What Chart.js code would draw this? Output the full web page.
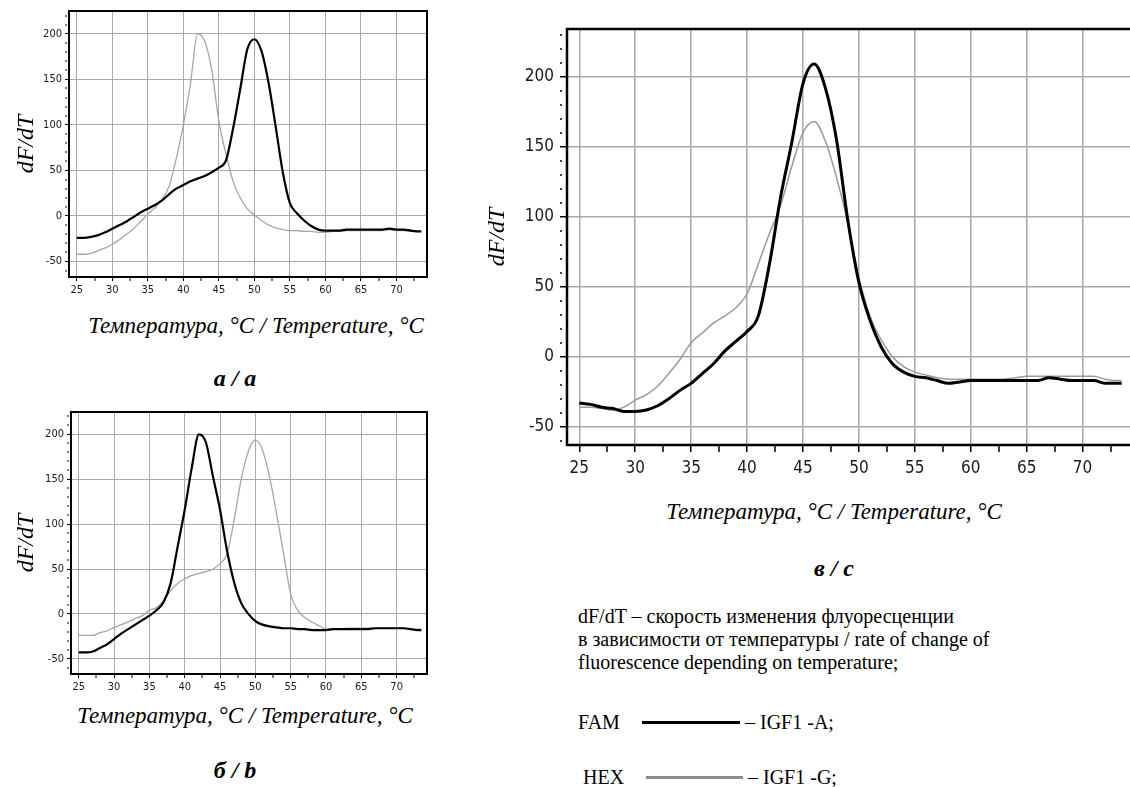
<!DOCTYPE html>
<html>
<head>
<meta charset="utf-8">
<script src="https://cdn.jsdelivr.net/npm/chart.js@4.4.0/dist/chart.umd.min.js"></script>
<style>
  html, body { margin: 0; padding: 0; background: #fff; width: 1130px; height: 787px; overflow: hidden; position: relative; font-family: "Liberation Serif", "Times New Roman", serif; color: #000; }
  canvas { position: absolute; }
  .cap { position: absolute; font-style: italic; font-size: 23px; white-space: nowrap; transform: translate(-50%, -50%); }
  .lab { position: absolute; font-style: italic; font-weight: bold; font-size: 24px; white-space: nowrap; transform: translate(-50%, -50%); }
  .note { position: absolute; left: 578px; top: 605px; font-size: 20px; line-height: 23px; white-space: nowrap; }
  .leg { position: absolute; font-size: 20px; white-space: nowrap; transform: translateY(-50%); }
  .line { position: absolute; height: 3px; }
</style>
</head>
<body>

<canvas id="chartA" width="440" height="300" style="left:0;top:0"></canvas>
<div class="cap" style="left:256px;top:326px">Температура, °C / Temperature, °C</div>
<div class="lab" style="left:235px;top:378px">а / а</div>

<canvas id="chartB" width="440" height="310" style="left:0;top:390px"></canvas>
<div class="cap" style="left:245px;top:716px">Температура, °C / Temperature, °C</div>
<div class="lab" style="left:235px;top:770px">б / b</div>

<canvas id="chartC" width="670" height="490" style="left:470px;top:0"></canvas>
<div class="cap" style="left:834px;top:512px">Температура, °C / Temperature, °C</div>
<div class="lab" style="left:834px;top:568px">в / с</div>

<div class="note">dF/dT – скорость изменения флуоресценции<br>в зависимости от температуры / rate of change of<br>fluorescence depending on temperature;</div>

<div class="leg" style="left:578px;top:722px">FAM</div>
<div class="line" style="left:642px;top:721px;width:98px;background:#000"></div>
<div class="leg" style="left:745px;top:722px">– IGF1 -A;</div>

<div class="leg" style="left:583px;top:777px">HEX</div>
<div class="line" style="left:646px;top:776px;width:97px;background:#8c8c8c"></div>
<div class="leg" style="left:748px;top:777px">– IGF1 -G;</div>

<script>
// температуры, °C
const temps = [25, 26, 27, 28, 29, 30, 31, 32, 33, 34, 35, 36, 37, 38, 39, 40, 41, 42, 43, 44,
               45, 46, 47, 48, 49, 50, 51, 52, 53, 54, 55, 56, 57, 58, 59, 60, 61, 62, 63, 64,
               65, 66, 67, 68, 69, 70, 71, 72, 73, 73.5];

// а / a
const aFam = [-24, -24, -23, -21, -18, -14, -10, -6, -1, 4, 8, 12, 17, 24, 30, 34, 38, 41, 44, 48,
              53, 61, 96, 139, 183, 194, 181, 146, 98, 48, 14, 3, -5, -11, -15, -16, -16, -16, -15, -15,
              -15, -15, -15, -15, -14, -15, -15, -16, -17, -17];
const aHex = [-42, -42, -41, -38, -35, -31, -26, -20, -14, -6, 2, 9, 18, 33, 63, 100, 145, 200, 192, 160,
              104, 68, 38, 20, 8, 1, -5, -10, -13, -15, -16, -16, -17, -17, -18, -18, -17, -17, -16, -16,
              -16, -16, -16, -16, -15, -16, -16, -17, -17, -17];

// б / b
const bFam = [-43, -43, -42, -38, -34, -28, -22, -17, -12, -7, -2, 4, 13, 34, 75, 116, 163, 200, 191, 153,
              116, 70, 35, 12, 0, -8, -12, -14, -15, -16, -16, -17, -17, -18, -18, -18, -17, -17, -17, -17,
              -17, -17, -16, -16, -16, -16, -16, -17, -18, -18];
const bHex = [-24, -24, -24, -21, -19, -15, -12, -9, -5, -2, 4, 7, 15, 26, 34, 39, 43, 45, 47, 50,
              56, 67, 105, 150, 181, 194, 183, 153, 112, 67, 22, 4, -4, -9, -13, -17, -17, -17, -16, -16,
              -16, -16, -16, -16, -16, -16, -16, -17, -17, -17];

// в / c
const cFam = [-33, -34, -36, -37, -39, -39, -38, -35, -30, -24, -19, -12, -5, 4, 11, 18, 29, 66, 114, 153,
              195, 209, 192, 155, 98, 53, 26, 7, -5, -11, -14, -15, -17, -19, -18, -17, -17, -17, -17, -17,
              -17, -17, -15, -16, -17, -17, -17, -19, -19, -19];
const cHex = [-36, -36, -37, -38, -36, -31, -27, -21, -12, -2, 10, 17, 24, 29, 35, 45, 66, 88, 108, 136,
              160, 168, 154, 128, 96, 57, 29, 12, 0, -7, -11, -13, -15, -16, -16, -16, -16, -16, -16, -15,
              -14, -14, -14, -14, -14, -14, -14, -16, -17, -17];

// подписи осей
const tempLabels = [25, 30, 35, 40, 45, 50, 55, 60, 65, 70];
const tempMinor = [25, 27.5, 30, 32.5, 35, 37.5, 40, 42.5, 45, 47.5, 50, 52.5, 55, 57.5, 60, 62.5, 65, 67.5, 70, 72.5];
const dfLabels = [-50, 0, 50, 100, 150, 200];
const dfMinor = [-60, -50, -40, -30, -20, -10, 0, 10, 20, 30, 40, 50, 60, 70, 80, 90, 100, 110,
                 120, 130, 140, 150, 160, 170, 180, 190, 200, 210, 220, 230];

// рамка вокруг области графика
const frame = {
  id: 'frame',
  afterDraw(chart, args, opts) {
    const { ctx, chartArea: a } = chart;
    ctx.save();
    ctx.strokeStyle = '#000';
    ctx.lineWidth = opts.width;
    ctx.strokeRect(a.left, a.top, a.right - a.left, a.bottom - a.top);
    ctx.restore();
  }
};

function makeChart(id, fam, hex, o) {
  const ctx = document.getElementById(id).getContext('2d');
  return new Chart(ctx, {
    type: 'line',
    data: {
      labels: temps,
      datasets: [
        { label: 'FAM', data: fam, borderColor: '#000', borderWidth: o.bw, pointRadius: 0, cubicInterpolationMode: 'monotone' },
        { label: 'HEX', data: hex, borderColor: o.gray, borderWidth: o.gw2, pointRadius: 0, cubicInterpolationMode: 'monotone' }
      ]
    },
    options: {
      responsive: false,
      animation: false,
      devicePixelRatio: 1,
      layout: { padding: { top: o.pt, right: o.pr, left: 0, bottom: 0 } },
      plugins: { legend: { display: false }, tooltip: { enabled: false }, frame: { width: o.fw } },
      scales: {
        x: {
          type: 'linear', min: 23.9, max: o.xMax,
          afterFit: s => { s.height = o.xH; },
          afterBuildTicks: s => { s.ticks = tempMinor.map(v => ({ value: v })); },
          ticks: {
            autoSkip: false, maxRotation: 0, padding: o.xPad, color: '#1a1a1a',
            font: { family: '"DejaVu Sans Condensed", "DejaVu Sans", sans-serif', size: o.fs },
            callback: v => tempLabels.includes(v) ? v : ''
          },
          grid: {
            color: '#a9a9a9',
            lineWidth: c => tempLabels.includes(c.tick.value) ? o.lw : 0,
            tickColor: '#000', tickWidth: o.tw, tickLength: o.tl
          },
          border: { display: false }
        },
        y: {
          min: o.yMin, max: o.yMax,
          afterFit: s => { s.width = o.yW; },
          afterBuildTicks: s => { s.ticks = dfMinor.filter(v => v >= o.yMin && v <= o.yMax).map(v => ({ value: v })); },
          ticks: {
            autoSkip: false, padding: o.yPad, color: '#1a1a1a',
            font: { family: '"DejaVu Sans Condensed", "DejaVu Sans", sans-serif', size: o.fs },
            callback: v => dfLabels.includes(v) ? v : ''
          },
          grid: {
            color: '#a9a9a9',
            lineWidth: c => dfLabels.includes(c.tick.value) ? o.lw : 0,
            tickColor: '#000', tickWidth: o.tw, tickLength: o.tl,
            tickBorderDash: c => dfLabels.includes(c.tick.value) ? [] : [2, 30]
          },
          border: { display: false },
          title: {
            display: true, text: 'dF/dT', color: '#000',
            font: { family: '"Liberation Serif", serif', style: 'italic', size: 24 },
            padding: { top: o.tp, bottom: 0 }
          }
        }
      }
    },
    plugins: [frame]
  });
}

makeChart('chartA', aFam, aHex, {
  bw: 2.2, gw2: 1.3, gray: '#a6a6a6', pt: 11, pr: 13, fw: 2, xMax: 74.3, xH: 23, xPad: 3, fs: 11,
  lw: 1, tw: 1, tl: 4, yMin: -67, yMax: 225, yW: 69, yPad: 3, tp: 12
});
makeChart('chartB', bFam, bHex, {
  bw: 2.2, gw2: 1.3, gray: '#a6a6a6', pt: 22, pr: 13, fw: 2, xMax: 74.3, xH: 26, xPad: 3, fs: 11,
  lw: 1, tw: 1, tl: 4, yMin: -67, yMax: 225, yW: 71, yPad: 3, tp: 12
});
makeChart('chartC', cFam, cHex, {
  bw: 3, gw2: 1.5, gray: '#9a9a9a', pt: 29, pr: 6, fw: 2.5, xMax: 74.6, xH: 45, xPad: 6, fs: 17,
  lw: 1.5, tw: 1.5, tl: 7, yMin: -63, yMax: 234, yW: 97, yPad: 6, tp: 13
});
</script>
</body>
</html>
